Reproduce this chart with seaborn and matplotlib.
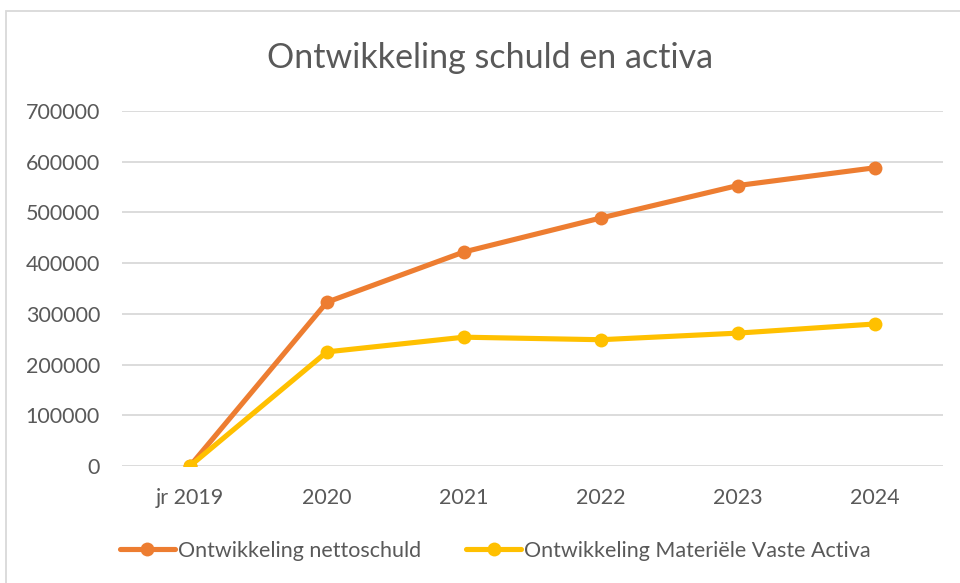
import matplotlib
matplotlib.use("Agg")
import matplotlib.pyplot as plt
import seaborn as sns
import pandas as pd
from matplotlib.patches import Rectangle

categories = ["jr 2019", "2020", "2021", "2022", "2023", "2024"]
nettoschuld = [0, 323000, 422000, 489000, 553000, 588000]
activa = [0, 225000, 254000, 249000, 262000, 280000]
series_names = ["Ontwikkeling nettoschuld", "Ontwikkeling Materiële Vaste Activa"]
colors = ["#ED7D31", "#FFC000"]

df = pd.DataFrame({
    "cat": categories * 2,
    "value": nettoschuld + activa,
    "series": [series_names[0]] * len(categories) + [series_names[1]] * len(categories),
})

sns.set_theme(style="white")
plt.rcParams["font.family"] = ["Lato", "DejaVu Sans"]

fig = plt.figure(figsize=(9.6, 5.83), dpi=100)
ax = fig.add_axes([0.1266, 0.2007, 0.8557, 0.6089])

sns.lineplot(data=df, x="cat", y="value", hue="series", palette=colors,
             marker="o", markersize=10, markeredgewidth=0, linewidth=3.7,
             sort=False, ax=ax, legend=True)

ax.set_xlim(-0.5, len(categories) - 0.5)
ax.set_ylim(0, 700000)
ax.set_yticks(range(0, 700001, 100000))
ax.set_yticklabels([str(v) for v in range(0, 700001, 100000)])
ax.grid(axis="y", color="#d9d9d9", linewidth=1.3)
ax.set_axisbelow(True)
for s in ax.spines.values():
    s.set_visible(False)
ax.tick_params(axis="both", length=0, labelsize=15.5, colors="#595959")
ax.tick_params(axis="y", pad=15.5)
ax.tick_params(axis="x", pad=16)
ax.set_xlabel("")
ax.set_ylabel("")

handles, labels = ax.get_legend_handles_labels()
ax.get_legend().remove()
fig.legend(handles, labels, loc="center", bbox_to_anchor=(0.516, 0.055), ncol=2,
           frameon=False, fontsize=15.5, labelcolor="#595959", handlelength=2.55,
           handletextpad=0.15, columnspacing=2.1)

fig.text(0.51, 0.9, "Ontwikkeling schuld en activa", ha="center", va="center",
         fontsize=24.5, color="#595959")

fig.patches.append(Rectangle((5.5 / 960, -0.1), 1.2, (583 - 11.5) / 583 + 0.1,
                             transform=fig.transFigure, fill=False,
                             edgecolor="#d9d9d9", linewidth=1.3, zorder=0))

fig.savefig("out.png", dpi=100)
